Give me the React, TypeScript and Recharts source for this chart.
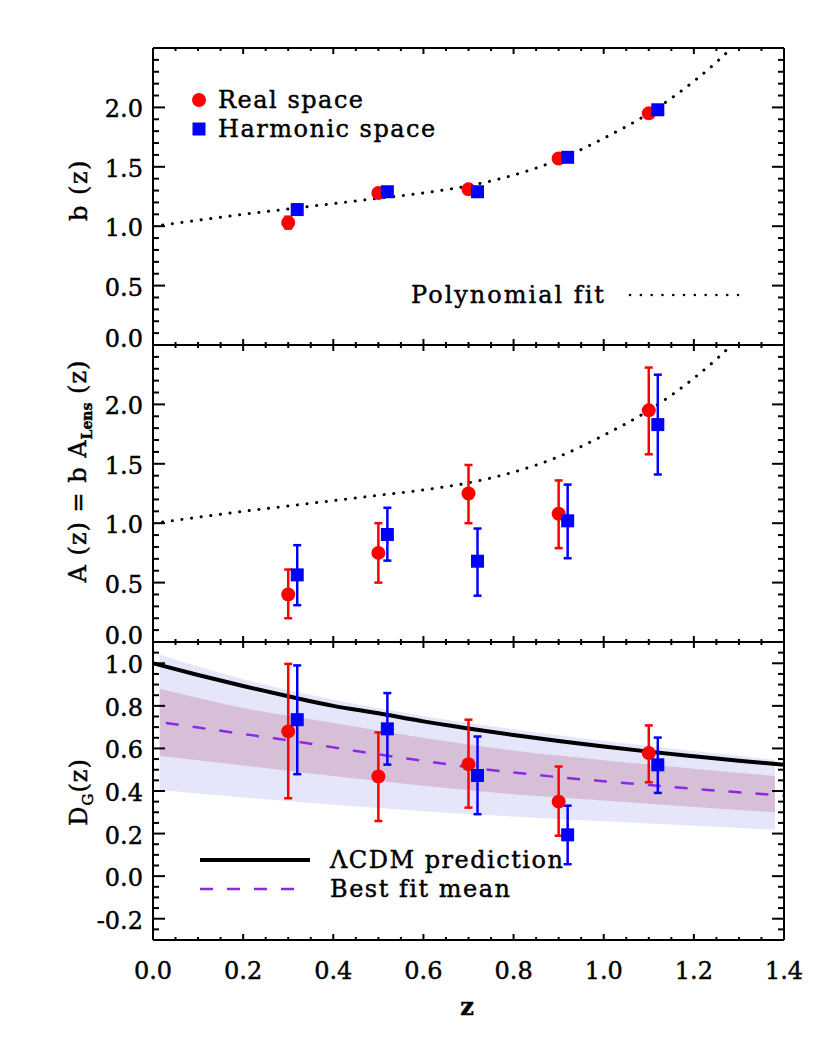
import React from 'react';
import {
  ComposedChart,
  XAxis,
  YAxis,
  Line,
  Area,
  Scatter,
  ErrorBar,
} from 'recharts';

// redshift bins
const Z_REAL = [0.3, 0.5, 0.7, 0.9, 1.1];
const Z_HARM = [0.32, 0.52, 0.72, 0.92, 1.12];

// b(z)
const B_REAL = [1.03, 1.28, 1.31, 1.57, 1.95];
const B_REAL_LO = [0.98, 1.25, 1.29, 1.55, 1.93];
const B_REAL_HI = [1.08, 1.31, 1.33, 1.59, 1.97];
const B_HARM = [1.14, 1.29, 1.29, 1.58, 1.98];
const B_HARM_LO = [1.1, 1.26, 1.27, 1.56, 1.96];
const B_HARM_HI = [1.18, 1.32, 1.31, 1.6, 2.0];

// A(z) = b A_Lens
const A_REAL = [0.4, 0.75, 1.25, 1.08, 1.95];
const A_REAL_LO = [0.2, 0.5, 1.0, 0.79, 1.58];
const A_REAL_HI = [0.61, 1.0, 1.49, 1.36, 2.31];
const A_HARM = [0.565, 0.905, 0.68, 1.02, 1.83];
const A_HARM_LO = [0.31, 0.685, 0.39, 0.705, 1.41];
const A_HARM_HI = [0.815, 1.13, 0.955, 1.325, 2.25];

// D_G(z)
const D_REAL = [0.68, 0.468, 0.526, 0.35, 0.578];
const D_REAL_LO = [0.366, 0.259, 0.322, 0.19, 0.441];
const D_REAL_HI = [0.997, 0.675, 0.735, 0.515, 0.708];
const D_HARM = [0.735, 0.692, 0.473, 0.194, 0.523];
const D_HARM_LO = [0.479, 0.524, 0.291, 0.056, 0.391];
const D_HARM_HI = [0.99, 0.86, 0.656, 0.331, 0.651];

// polynomial fit to b(z)
const FIT_Z = [0, 0.1, 0.2, 0.3, 0.4, 0.5, 0.6, 0.7, 0.8, 0.9, 1.0, 1.1, 1.2, 1.25, 1.3];
const FIT_B = [1.0, 1.05, 1.1, 1.145, 1.19, 1.235, 1.28, 1.34, 1.43, 1.56, 1.74, 1.95, 2.22, 2.38, 2.56];

// growth curves
const GROWTH_Z = [0, 0.1, 0.2, 0.3, 0.4, 0.5, 0.6, 0.7, 0.8, 0.9, 1.0, 1.1, 1.2, 1.3, 1.4];
const LCDM = [1.0, 0.945, 0.893, 0.845, 0.8, 0.765, 0.727, 0.694, 0.663, 0.635, 0.609, 0.585, 0.563, 0.542, 0.523];
const MEAN = [0.728, 0.698, 0.668, 0.638, 0.605, 0.572, 0.542, 0.512, 0.487, 0.465, 0.446, 0.428, 0.41, 0.394, 0.378];

// confidence bands
const BAND_Z = [0.015, 0.2, 0.4, 0.6, 0.8, 1.0, 1.2, 1.38];
const OUTER_HI = [1.04, 0.925, 0.83, 0.752, 0.69, 0.635, 0.588, 0.546];
const OUTER_LO = [0.405, 0.37, 0.335, 0.305, 0.28, 0.258, 0.237, 0.218];
const INNER_HI = [0.88, 0.79, 0.72, 0.65, 0.59, 0.545, 0.505, 0.47];
const INNER_LO = [0.565, 0.52, 0.47, 0.425, 0.385, 0.355, 0.325, 0.3];

// axes
const X_DOMAIN = [0, 1.4];
const X_MAJOR = [0, 0.2, 0.4, 0.6, 0.8, 1.0, 1.2, 1.4];
const BA_DOMAIN = [0, 2.5];
const BA_MAJOR = [0, 0.5, 1.0, 1.5, 2.0];
const D_DOMAIN = [-0.3, 1.1];
const D_MAJOR = [-0.2, 0, 0.2, 0.4, 0.6, 0.8, 1.0];

const FONT = "'DejaVu Serif', serif";
const TXT_STROKE = 0.45;
const W = 830;
const H = 1038;
const LEFT = 153;
const RIGHT = 784;
// axis band sizes (ticks are drawn at the plot edge regardless)
const XB_H = 40;
const XT_H = 10;
const YL_W = 60;
const YR_W = 10;

const steps = (a: number, b: number, s: number) => {
  const out: number[] = [];
  const n = Math.round((b - a) / s);
  for (let i = 0; i <= n; i++) out.push(Math.round((a + i * s) * 1000) / 1000);
  return out;
};
const X_TICKS = steps(0, 1.4, 0.05);
const BA_TICKS = steps(0, 2.4, 0.1);
const D_TICKS = steps(-0.25, 1.05, 0.05);

const isIn = (v: number, list: number[]) => list.some((m) => Math.abs(m - v) < 1e-6);

const pts = (z: number[], y: number[], lo: number[], hi: number[]) =>
  z.map((x, i) => ({ x, y: y[i], err: [y[i] - lo[i], hi[i] - y[i]] }));
const curve = (z: number[], y: number[]) => z.map((x, i) => ({ x, y: y[i] }));
const band = (z: number[], lo: number[], hi: number[]) => z.map((x, i) => ({ x, r: [lo[i], hi[i]] }));

function makeXTick(side: 'top' | 'bottom', labels: boolean) {
  return (p: any) => {
    const v = p.payload.value;
    const major = isIn(v, X_MAJOR);
    const len = major ? 6 : 3;
    const d = side === 'bottom' ? -1 : 1;
    return (
      <g>
        <line x1={p.x} x2={p.x} y1={p.y} y2={p.y + d * len} stroke="#000" strokeWidth={2} />
        {labels && major && (
          <text
            x={p.x}
            y={p.y + 39}
            textAnchor="middle"
            fontFamily={FONT}
            fontSize={24}
            fill="#000"
            stroke="#000"
            strokeWidth={TXT_STROKE}
          >
            {v.toFixed(1)}
          </text>
        )}
      </g>
    );
  };
}

function makeYTick(side: 'left' | 'right', majors: number[], liftZero: boolean) {
  return (p: any) => {
    const v = p.payload.value;
    const major = isIn(v, majors);
    const len = major ? 12 : 6;
    const d = side === 'left' ? 1 : -1;
    const lift = liftZero && Math.abs(v) < 1e-9 ? -8 : 0;
    return (
      <g>
        <line x1={p.x} x2={p.x + d * len} y1={p.y} y2={p.y} stroke="#000" strokeWidth={2} />
        {side === 'left' && major && (
          <text
            x={p.x - 10}
            y={p.y + 10 + lift}
            textAnchor="end"
            fontFamily={FONT}
            fontSize={24}
            fill="#000"
            stroke="#000"
            strokeWidth={TXT_STROKE}
          >
            {v.toFixed(1)}
          </text>
        )}
      </g>
    );
  };
}

const circle = (color: string) => (p: any) => <circle cx={p.cx} cy={p.cy} r={7} fill={color} />;
const square = (color: string) => (p: any) => (
  <rect x={p.cx - 6.5} y={p.cy - 6.5} width={13} height={13} fill={color} />
);

const axisLine = { stroke: '#000', strokeWidth: 2 };

function Panel({
  top,
  bottom,
  yDomain,
  yTicks,
  yMajor,
  liftZero,
  xLabels,
  children,
}: {
  top: number;
  bottom: number;
  yDomain: number[];
  yTicks: number[];
  yMajor: number[];
  liftZero: boolean;
  xLabels: boolean;
  children: React.ReactNode;
}) {
  return (
    <div style={{ position: 'absolute', left: 0, top: 0 }}>
      <ComposedChart
        width={W}
        height={H}
        margin={{
          top: top - XT_H,
          bottom: H - bottom - XB_H,
          left: LEFT - YL_W,
          right: W - RIGHT - YR_W,
        }}
      >
        <XAxis
          xAxisId="b"
          dataKey="x"
          type="number"
          domain={X_DOMAIN}
          ticks={X_TICKS}
          interval={0}
          height={XB_H}
          tickSize={0}
          tickMargin={0}
          tickLine={false}
          axisLine={axisLine}
          tick={makeXTick('bottom', xLabels)}
          allowDataOverflow
        />
        <XAxis
          xAxisId="t"
          orientation="top"
          dataKey="x"
          type="number"
          domain={X_DOMAIN}
          ticks={X_TICKS}
          interval={0}
          height={XT_H}
          tickSize={0}
          tickMargin={0}
          tickLine={false}
          axisLine={axisLine}
          tick={makeXTick('top', false)}
          allowDataOverflow
        />
        <YAxis
          yAxisId="l"
          type="number"
          domain={yDomain}
          ticks={yTicks}
          interval={0}
          width={YL_W}
          tickSize={0}
          tickMargin={0}
          tickLine={false}
          axisLine={axisLine}
          tick={makeYTick('left', yMajor, liftZero)}
          allowDataOverflow
        />
        <YAxis
          yAxisId="r"
          orientation="right"
          type="number"
          domain={yDomain}
          ticks={yTicks}
          interval={0}
          width={YR_W}
          tickSize={0}
          tickMargin={0}
          tickLine={false}
          axisLine={axisLine}
          tick={makeYTick('right', yMajor, false)}
          allowDataOverflow
        />
        {children}
      </ComposedChart>
    </div>
  );
}

const fitLine = (
  <Line
    xAxisId="b"
    yAxisId="l"
    data={curve(FIT_Z, FIT_B)}
    dataKey="y"
    type="monotone"
    stroke="#000"
    strokeWidth={3}
    strokeLinecap="round"
    strokeDasharray="0.1 9.6"
    dot={false}
    activeDot={false}
    isAnimationActive={false}
  />
);

function points(data: any[], color: string, kind: 'c' | 's') {
  return (
    <Scatter
      xAxisId="b"
      yAxisId="l"
      data={data}
      dataKey="y"
      shape={kind === 'c' ? circle(color) : square(color)}
      isAnimationActive={false}
    >
      <ErrorBar dataKey="err" direction="y" width={4} stroke={color} strokeWidth={2.5} isAnimationActive={false} />
    </Scatter>
  );
}

export default function App() {
  return (
    <div style={{ position: 'absolute', left: 0, top: 0, width: W, height: H, background: '#fff' }}>
      <Panel top={48} bottom={345} yDomain={BA_DOMAIN} yTicks={BA_TICKS} yMajor={BA_MAJOR} liftZero xLabels={false}>
        {fitLine}
        {points(pts(Z_REAL, B_REAL, B_REAL_LO, B_REAL_HI), '#ff0000', 'c')}
        {points(pts(Z_HARM, B_HARM, B_HARM_LO, B_HARM_HI), '#0000ff', 's')}
      </Panel>
      <Panel top={345} bottom={642} yDomain={BA_DOMAIN} yTicks={BA_TICKS} yMajor={BA_MAJOR} liftZero xLabels={false}>
        {fitLine}
        {points(pts(Z_REAL, A_REAL, A_REAL_LO, A_REAL_HI), '#ff0000', 'c')}
        {points(pts(Z_HARM, A_HARM, A_HARM_LO, A_HARM_HI), '#0000ff', 's')}
      </Panel>
      <Panel top={642} bottom={940} yDomain={D_DOMAIN} yTicks={D_TICKS} yMajor={D_MAJOR} liftZero={false} xLabels>
        <Area
          xAxisId="b"
          yAxisId="l"
          data={band(BAND_Z, OUTER_LO, OUTER_HI)}
          dataKey="r"
          type="monotone"
          fill="#e6e6fa"
          fillOpacity={1}
          stroke="none"
          dot={false}
          activeDot={false}
          isAnimationActive={false}
        />
        <Area
          xAxisId="b"
          yAxisId="l"
          data={band(BAND_Z, INNER_LO, INNER_HI)}
          dataKey="r"
          type="monotone"
          fill="#d8bfd8"
          fillOpacity={1}
          stroke="none"
          dot={false}
          activeDot={false}
          isAnimationActive={false}
        />
        <Line
          xAxisId="b"
          yAxisId="l"
          data={curve(GROWTH_Z, LCDM)}
          dataKey="y"
          type="monotone"
          stroke="#000"
          strokeWidth={4}
          dot={false}
          activeDot={false}
          isAnimationActive={false}
        />
        <Line
          xAxisId="b"
          yAxisId="l"
          data={curve(GROWTH_Z, MEAN)}
          dataKey="y"
          type="monotone"
          stroke="#8a2be2"
          strokeWidth={2.5}
          strokeDasharray="13 14"
          strokeDashoffset={14}
          dot={false}
          activeDot={false}
          isAnimationActive={false}
        />
        {points(pts(Z_REAL, D_REAL, D_REAL_LO, D_REAL_HI), '#ff0000', 'c')}
        {points(pts(Z_HARM, D_HARM, D_HARM_LO, D_HARM_HI), '#0000ff', 's')}
      </Panel>

      <svg
        width={W}
        height={H}
        style={{ position: 'absolute', left: 0, top: 0, pointerEvents: 'none' }}
        fontFamily={FONT}
        fontSize={24}
      >
        <g stroke="#000" strokeWidth={TXT_STROKE}>
          {/* top legend */}
          <text x={218} y={108} letterSpacing={1.5}>Real space</text>
          <text x={218} y={137} letterSpacing={1.5}>Harmonic space</text>
          <text x={411} y={303} letterSpacing={2}>Polynomial fit</text>

          {/* bottom legend */}
          <text x={330} y={868} letterSpacing={1.5}>ΛCDM prediction</text>
          <text x={330} y={897} letterSpacing={1.5}>Best fit mean</text>

          {/* axis titles */}
          <text x={467} y={1015} textAnchor="middle" fontWeight="bold">z</text>
          <g transform="translate(87,190) rotate(-90)">
            <text x={0} y={0} textAnchor="middle" letterSpacing={1.5}>b (z)</text>
          </g>
          <g transform="translate(86,471) rotate(-90)">
            <text x={0} y={0} textAnchor="middle" letterSpacing={1}>
              A (z) = b A
              <tspan fontSize={14} fontWeight="bold" dy={6} letterSpacing={0}>Lens</tspan>
              <tspan dy={-6}> (z)</tspan>
            </text>
          </g>
          <g transform="translate(87,792) rotate(-90)">
            <text x={0} y={0} textAnchor="middle" letterSpacing={1}>
              D
              <tspan fontSize={15} dy={6}>G</tspan>
              <tspan dy={-6}>(z)</tspan>
            </text>
          </g>
        </g>

        <circle cx={199} cy={100} r={7} fill="#ff0000" />
        <rect x={192.5} y={122.5} width={13} height={13} fill="#0000ff" />
        <line x1={630} x2={738} y1={295} y2={295} stroke="#000" strokeWidth={2.5} strokeLinecap="round" strokeDasharray="0.1 10.7" />
        <line x1={200} x2={310} y1={860} y2={860} stroke="#000" strokeWidth={4} />
        <line x1={200} x2={297} y1={889} y2={889} stroke="#8a2be2" strokeWidth={2.5} strokeDasharray="13 14" />
      </svg>
    </div>
  );
}
